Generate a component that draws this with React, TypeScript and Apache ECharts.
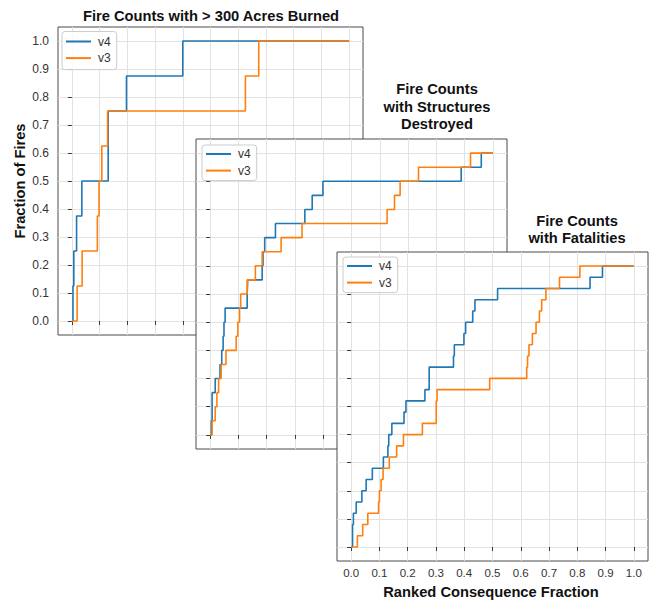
import React, { useEffect, useRef } from "react";
import * as echarts from "echarts";

// Shared tick values (fractions)
const tickValues = [0, 0.1, 0.2, 0.3, 0.4, 0.5, 0.6, 0.7, 0.8, 0.9, 1.0];
const seriesNames = ["v4", "v3"];

// Panel 1: Fire Counts with > 300 Acres Burned
const acresV4X = [0, 0.004, 0.007, 0.017, 0.036, 0.131, 0.197, 0.4, 1.0];
const acresV4Y = [0, 0.125, 0.25, 0.375, 0.5, 0.75, 0.875, 1.0, 1.0];
const acresV3X = [0, 0.019, 0.037, 0.092, 0.098, 0.108, 0.129, 0.626, 0.674, 1.0];
const acresV3Y = [0, 0.125, 0.25, 0.375, 0.5, 0.625, 0.75, 0.875, 1.0, 1.0];

// Panel 2: Fire Counts with Structures Destroyed
const structV4X = [0, 0.004, 0.007, 0.018, 0.035, 0.041, 0.046, 0.049, 0.053, 0.131, 0.133, 0.184, 0.187, 0.193, 0.231, 0.335, 0.361, 0.399, 0.888, 0.959, 1.0];
const structV4Y = [0, 0.05, 0.15, 0.2, 0.25, 0.3, 0.35, 0.4, 0.45, 0.5, 0.55, 0.6, 0.65, 0.7, 0.75, 0.8, 0.85, 0.9, 0.95, 1.0, 1.0];
const structV3X = [0, 0.007, 0.018, 0.024, 0.03, 0.039, 0.056, 0.092, 0.098, 0.104, 0.108, 0.131, 0.16, 0.184, 0.251, 0.325, 0.626, 0.652, 0.672, 0.737, 0.921, 1.0];
const structV3Y = [0, 0.05, 0.1, 0.15, 0.2, 0.25, 0.3, 0.35, 0.4, 0.45, 0.5, 0.55, 0.6, 0.65, 0.7, 0.75, 0.8, 0.85, 0.9, 0.95, 1.0, 1.0];

// Panel 3: Fire Counts with Fatalities
const fatalV4X = [0, 0.005, 0.008, 0.018, 0.038, 0.053, 0.075, 0.114, 0.13, 0.133, 0.144, 0.187, 0.194, 0.261, 0.276, 0.362, 0.365, 0.399, 0.405, 0.43, 0.438, 0.518, 0.845, 0.889, 1.0];
const fatalV4Y = [0, 0.08, 0.12, 0.16, 0.2, 0.24, 0.28, 0.32, 0.36, 0.4, 0.44, 0.48, 0.52, 0.56, 0.64, 0.68, 0.72, 0.76, 0.8, 0.84, 0.88, 0.92, 0.96, 1.0, 1.0];
const fatalV3X = [0, 0.022, 0.041, 0.059, 0.097, 0.1, 0.106, 0.113, 0.135, 0.161, 0.185, 0.252, 0.301, 0.304, 0.49, 0.621, 0.624, 0.629, 0.641, 0.654, 0.666, 0.674, 0.689, 0.737, 0.809, 1.0];
const fatalV3Y = [0, 0.04, 0.08, 0.12, 0.16, 0.2, 0.24, 0.28, 0.32, 0.36, 0.4, 0.44, 0.52, 0.56, 0.6, 0.64, 0.68, 0.72, 0.76, 0.8, 0.84, 0.88, 0.92, 0.96, 1.0, 1.0];

const titleAcres = ["Fire Counts with > 300 Acres Burned"];
const titleStruct = ["Fire Counts", "with Structures", "Destroyed"];
const titleFatal = ["Fire Counts", "with Fatalities"];
const yAxisTitle = "Fraction of Fires";
const xAxisTitle = "Ranked Consequence Fraction";

const BLUE = "#1f77b4";
const ORANGE = "#ff7f0e";
const FONT = '"Liberation Sans", Arial, sans-serif';
const FRAME = "#4a4a4a";
const GRIDC = "#e2e2e2";
const TICKC = "#3a3a3a";
const TITLE_FONT = `bold 14.7px ${FONT}`;

function zip(xs: number[], ys: number[]) {
  return xs.map((x, i) => [x, ys[i]]);
}

function stepSeries(name: string, xs: number[], ys: number[], color: string, idx: number, z: number) {
  return {
    type: "line",
    name,
    xAxisIndex: idx,
    yAxisIndex: idx,
    data: zip(xs, ys),
    step: "end",
    symbol: "none",
    showSymbol: false,
    lineStyle: { color, width: 1.6 },
    itemStyle: { color },
    silent: true,
    z,
  };
}

function makeAxis(kind: "x" | "y", idx: number, z: number, showLabels: boolean) {
  return {
    type: "value",
    gridIndex: idx,
    min: -0.05,
    max: 1.05,
    z,
    axisLine: { show: false },
    axisTick: {
      show: true,
      inside: false,
      length: 4,
      customValues: tickValues,
      lineStyle: { color: TICKC, width: 1 },
    },
    axisLabel: {
      show: showLabels,
      customValues: tickValues,
      formatter: (v: number) => v.toFixed(1),
      color: "#333",
      fontSize: kind === "x" ? 11.5 : 12,
      fontFamily: FONT,
      margin: kind === "x" ? 6 : 9,
    },
    splitLine: { show: true, lineStyle: { color: GRIDC, width: 1 } },
  };
}

function makeLegend(left: number, top: number, padding: number[], z: number) {
  return {
    show: true,
    data: seriesNames,
    orient: "vertical",
    left,
    top,
    z,
    icon: "rect",
    itemWidth: 25,
    itemHeight: 2,
    itemGap: 4.6,
    padding,
    backgroundColor: "rgba(255,255,255,0.85)",
    borderColor: "#cccccc",
    borderWidth: 1,
    borderRadius: 3,
    selectedMode: false,
    textStyle: { fontSize: 12, color: "#333", fontFamily: FONT, padding: [0, 0, 0, 2] },
  };
}

function titleText(lines: string[], cx: number, y0: number, step: number) {
  return lines.map((t, i) => ({
    type: "text",
    x: cx,
    y: y0 + i * step,
    z: 100,
    style: {
      text: t,
      fill: "#111",
      font: TITLE_FONT,
      textAlign: "center",
      textVerticalAlign: "middle",
    },
  }));
}

export default function App() {
  const ref = useRef<HTMLDivElement>(null);
  useEffect(() => {
    if (!ref.current) return;
    const chart = echarts.init(ref.current, undefined, { renderer: "svg" });
    const gridBase = {
      show: true,
      backgroundColor: "#ffffff",
      borderColor: FRAME,
      borderWidth: 1,
      containLabel: false,
    };
    const option: any = {
      animation: false,
      backgroundColor: "#ffffff",
      grid: [
        { ...gridBase, left: 58, top: 27, width: 305, height: 308, z: 0 },
        { ...gridBase, left: 196, top: 139, width: 311, height: 310, z: 10 },
        { ...gridBase, left: 337, top: 252, width: 311, height: 309, z: 20 },
      ],
      xAxis: [makeAxis("x", 0, 1, false), makeAxis("x", 1, 11, false), makeAxis("x", 2, 21, true)],
      yAxis: [makeAxis("y", 0, 1, true), makeAxis("y", 1, 11, false), makeAxis("y", 2, 21, false)],
      legend: [
        makeLegend(62, 31.5, [4, 6, 5.5, 4], 3),
        makeLegend(202, 145, [3, 6, 4, 4], 13),
        makeLegend(343, 257, [3, 6, 4, 4], 23),
      ],
      series: [
        stepSeries("v4", acresV4X, acresV4Y, BLUE, 0, 2),
        stepSeries("v3", acresV3X, acresV3Y, ORANGE, 0, 2),
        stepSeries("v4", structV4X, structV4Y, BLUE, 1, 12),
        stepSeries("v3", structV3X, structV3Y, ORANGE, 1, 12),
        stepSeries("v4", fatalV4X, fatalV4Y, BLUE, 2, 22),
        stepSeries("v3", fatalV3X, fatalV3Y, ORANGE, 2, 22),
      ],
      graphic: [
        ...titleText(titleAcres, 211, 15.5, 17.5),
        ...titleText(titleStruct, 437, 89, 17.5),
        ...titleText(titleFatal, 577, 220.5, 17.5),
        {
          type: "text",
          x: 20,
          y: 181,
          rotation: Math.PI / 2,
          z: 100,
          style: {
            text: yAxisTitle,
            fill: "#111",
            font: TITLE_FONT,
            textAlign: "center",
            textVerticalAlign: "middle",
          },
        },
        {
          type: "text",
          x: 491,
          y: 591.5,
          z: 100,
          style: {
            text: xAxisTitle,
            fill: "#111",
            font: TITLE_FONT,
            textAlign: "center",
            textVerticalAlign: "middle",
          },
        },
      ],
    };
    chart.setOption(option);
    return () => chart.dispose();
  }, []);
  return (
    <div
      ref={ref}
      style={{ position: "absolute", left: 0, top: 0, width: 649, height: 602 }}
    />
  );
}
